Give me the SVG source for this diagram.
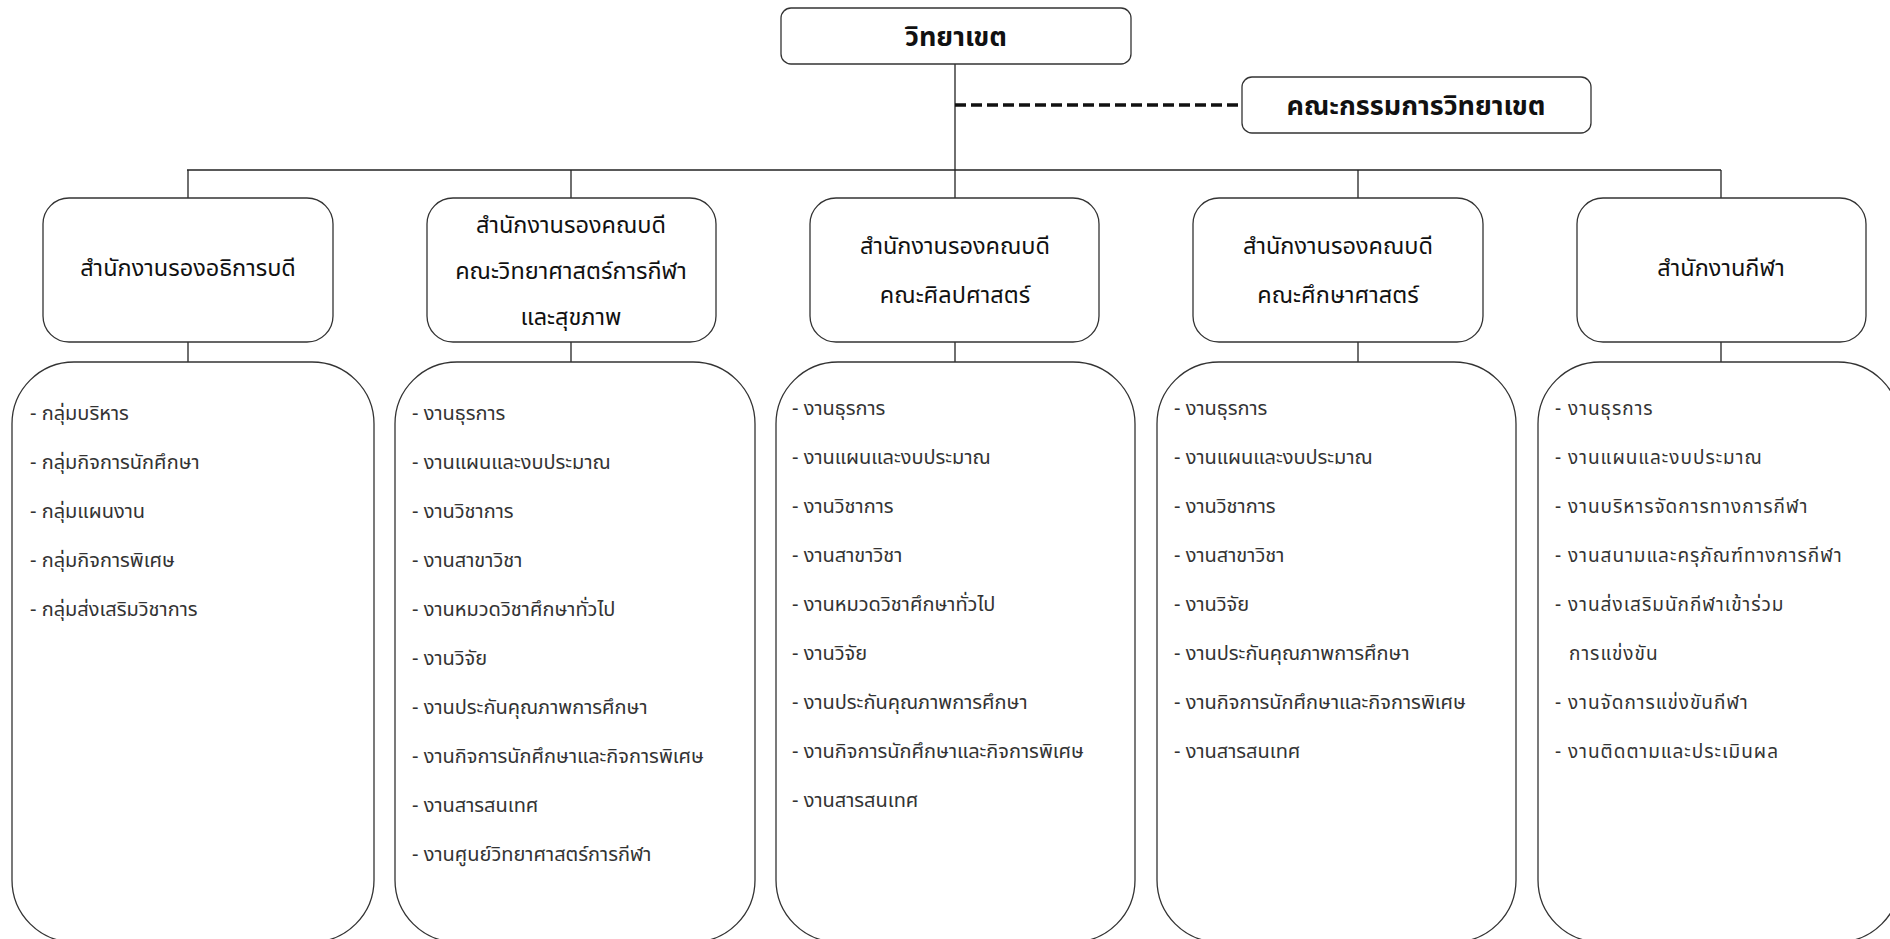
<svg xmlns="http://www.w3.org/2000/svg" width="1890" height="939" viewBox="0 0 1890 939">
<style>
.box{fill:#fff;stroke:#333;stroke-width:1.3}
.ln{stroke:#222;stroke-width:1.3;fill:none}
.dash{stroke:#111;stroke-width:3.5;stroke-dasharray:11 5;fill:none}
.h{font-family:"Noto Sans Thai","Noto Sans","DejaVu Sans",sans-serif;font-size:23.5px;fill:#111;text-anchor:middle}
.top{font-size:27px;font-weight:bold}
.t{font-family:"Noto Sans Thai","Noto Sans","DejaVu Sans",sans-serif;font-size:20px;fill:#333}
.w{font-size:19px;letter-spacing:1px}
</style>
<rect width="1890" height="939" fill="#fff"/>
<g id="connectors">
<line class="ln" x1="955" y1="64" x2="955" y2="198"/>
<line class="dash" x1="955" y1="105" x2="1242" y2="105"/>
<line class="ln" x1="187" y1="170" x2="1721" y2="170"/>
<line class="ln" x1="188" y1="170" x2="188" y2="198"/>
<line class="ln" x1="571" y1="170" x2="571" y2="198"/>
<line class="ln" x1="1358" y1="170" x2="1358" y2="198"/>
<line class="ln" x1="1721" y1="170" x2="1721" y2="198"/>
<line class="ln" x1="188" y1="342" x2="188" y2="362"/>
<line class="ln" x1="571" y1="342" x2="571" y2="362"/>
<line class="ln" x1="955" y1="342" x2="955" y2="362"/>
<line class="ln" x1="1358" y1="342" x2="1358" y2="362"/>
<line class="ln" x1="1721" y1="342" x2="1721" y2="362"/>
</g>
<g id="campus">
<rect class="box" x="781" y="8" width="350" height="56" rx="10"/>
<text class="h top" x="956" y="46">วิทยาเขต</text>
</g>
<g id="committee">
<rect class="box" x="1242" y="77" width="349" height="56" rx="10"/>
<text class="h top" x="1416" y="115">คณะกรรมการวิทยาเขต</text>
</g>
<g id="office1">
<rect class="box" x="43" y="198" width="290" height="144" rx="26"/>
<text class="h" x="188" y="276">สำนักงานรองอธิการบดี</text>
</g>
<g id="office2">
<rect class="box" x="427" y="198" width="289" height="144" rx="26"/>
<text class="h" x="571" y="233">สำนักงานรองคณบดี</text>
<text class="h" x="571" y="279">คณะวิทยาศาสตร์การกีฬา</text>
<text class="h" x="571" y="325">และสุขภาพ</text>
</g>
<g id="office3">
<rect class="box" x="810" y="198" width="289" height="144" rx="26"/>
<text class="h" x="955" y="254">สำนักงานรองคณบดี</text>
<text class="h" x="955" y="303">คณะศิลปศาสตร์</text>
</g>
<g id="office4">
<rect class="box" x="1193" y="198" width="290" height="144" rx="26"/>
<text class="h" x="1338" y="254">สำนักงานรองคณบดี</text>
<text class="h" x="1338" y="303">คณะศึกษาศาสตร์</text>
</g>
<g id="office5">
<rect class="box" x="1577" y="198" width="289" height="144" rx="26"/>
<text class="h" x="1721" y="276">สำนักงานกีฬา</text>
</g>
<g id="list1">
<rect class="box" x="12" y="362" width="362" height="580" rx="62"/>
<text class="t" x="30" y="420">- กลุ่มบริหาร</text>
<text class="t" x="30" y="469">- กลุ่มกิจการนักศึกษา</text>
<text class="t" x="30" y="518">- กลุ่มแผนงาน</text>
<text class="t" x="30" y="567">- กลุ่มกิจการพิเศษ</text>
<text class="t" x="30" y="616">- กลุ่มส่งเสริมวิชาการ</text>
</g>
<g id="list2">
<rect class="box" x="395" y="362" width="360" height="580" rx="62"/>
<text class="t" x="412" y="420">- งานธุรการ</text>
<text class="t" x="412" y="469">- งานแผนและงบประมาณ</text>
<text class="t" x="412" y="518">- งานวิชาการ</text>
<text class="t" x="412" y="567">- งานสาขาวิชา</text>
<text class="t" x="412" y="616">- งานหมวดวิชาศึกษาทั่วไป</text>
<text class="t" x="412" y="665">- งานวิจัย</text>
<text class="t" x="412" y="714">- งานประกันคุณภาพการศึกษา</text>
<text class="t" x="412" y="763">- งานกิจการนักศึกษาและกิจการพิเศษ</text>
<text class="t" x="412" y="812">- งานสารสนเทศ</text>
<text class="t" x="412" y="861">- งานศูนย์วิทยาศาสตร์การกีฬา</text>
</g>
<g id="list3">
<rect class="box" x="776" y="362" width="359" height="580" rx="62"/>
<text class="t" x="792" y="415">- งานธุรการ</text>
<text class="t" x="792" y="464">- งานแผนและงบประมาณ</text>
<text class="t" x="792" y="513">- งานวิชาการ</text>
<text class="t" x="792" y="562">- งานสาขาวิชา</text>
<text class="t" x="792" y="611">- งานหมวดวิชาศึกษาทั่วไป</text>
<text class="t" x="792" y="660">- งานวิจัย</text>
<text class="t" x="792" y="709">- งานประกันคุณภาพการศึกษา</text>
<text class="t" x="792" y="758">- งานกิจการนักศึกษาและกิจการพิเศษ</text>
<text class="t" x="792" y="807">- งานสารสนเทศ</text>
</g>
<g id="list4">
<rect class="box" x="1157" y="362" width="359" height="580" rx="62"/>
<text class="t" x="1174" y="415">- งานธุรการ</text>
<text class="t" x="1174" y="464">- งานแผนและงบประมาณ</text>
<text class="t" x="1174" y="513">- งานวิชาการ</text>
<text class="t" x="1174" y="562">- งานสาขาวิชา</text>
<text class="t" x="1174" y="611">- งานวิจัย</text>
<text class="t" x="1174" y="660">- งานประกันคุณภาพการศึกษา</text>
<text class="t" x="1174" y="709">- งานกิจการนักศึกษาและกิจการพิเศษ</text>
<text class="t" x="1174" y="758">- งานสารสนเทศ</text>
</g>
<g id="list5">
<rect class="box" x="1538" y="362" width="362" height="580" rx="62"/>
<text class="t w" x="1555" y="415">- งานธุรการ</text>
<text class="t w" x="1555" y="464">- งานแผนและงบประมาณ</text>
<text class="t w" x="1555" y="513">- งานบริหารจัดการทางการกีฬา</text>
<text class="t w" x="1555" y="562">- งานสนามและครุภัณฑ์ทางการกีฬา</text>
<text class="t w" x="1555" y="611">- งานส่งเสริมนักกีฬาเข้าร่วม</text>
<text class="t w" x="1569" y="660">การแข่งขัน</text>
<text class="t w" x="1555" y="709">- งานจัดการแข่งขันกีฬา</text>
<text class="t w" x="1555" y="758">- งานติดตามและประเมินผล</text>
</g>
</svg>
